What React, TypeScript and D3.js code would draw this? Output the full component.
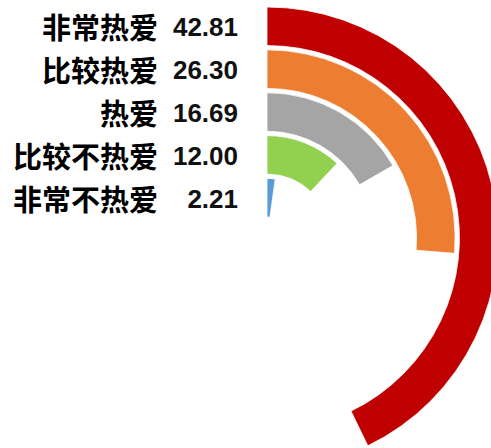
import React from "react";
import * as d3 from "d3";

const categories = ["非常热爱", "比较热爱", "热爱", "比较不热爱", "非常不热爱"];
const values = [42.81, 26.3, 16.69, 12.0, 2.21];
const colors = ["#C00000", "#ED7D31", "#A5A5A5", "#92D050", "#5B9BD5"];

const W = 491;
const H = 448;
const cx = 267;
const cy = 238;

export default function App() {
  const angle = d3.scaleLinear().domain([0, 100]).range([0, 2 * Math.PI]);
  const radial = d3
    .scaleBand<string>()
    .domain([...categories].reverse())
    .range([21, 231])
    .paddingInner(0.1)
    .paddingOuter(0);
  const arc = d3.arc<any>();

  return (
    <svg
      width={W}
      height={H}
      style={{ position: "fixed", left: 0, top: 0, background: "#fff" }}
    >
      <g transform={`translate(${cx},${cy})`}>
        {categories.map((c, i) => {
          const r0 = radial(c)!;
          const r1 = r0 + radial.bandwidth();
          const d = arc({
            innerRadius: r0,
            outerRadius: r1,
            startAngle: 0,
            endAngle: angle(values[i]),
          });
          return (
            <path
              key={c}
              d={d || ""}
              fill={colors[i]}
              stroke="#fff"
              strokeWidth={0.8}
            />
          );
        })}
      </g>
      {categories.map((c, i) => {
        const rm = radial(c)! + radial.bandwidth() / 2;
        const y = cy - rm;
        return (
          <g key={c}>
            <text
              x={158}
              y={y}
              textAnchor="end"
              dominantBaseline="central"
              fontFamily="'Noto Sans CJK SC', sans-serif"
              fontWeight={700}
              fontSize={29}
              fill="#000"
            >
              {c}
            </text>
            <text
              x={238}
              y={y + 1}
              textAnchor="end"
              dominantBaseline="central"
              fontFamily="'Liberation Sans', Arial, sans-serif"
              fontWeight={700}
              fontSize={26}
              fill="#111"
            >
              {values[i].toFixed(2)}
            </text>
          </g>
        );
      })}
    </svg>
  );
}
